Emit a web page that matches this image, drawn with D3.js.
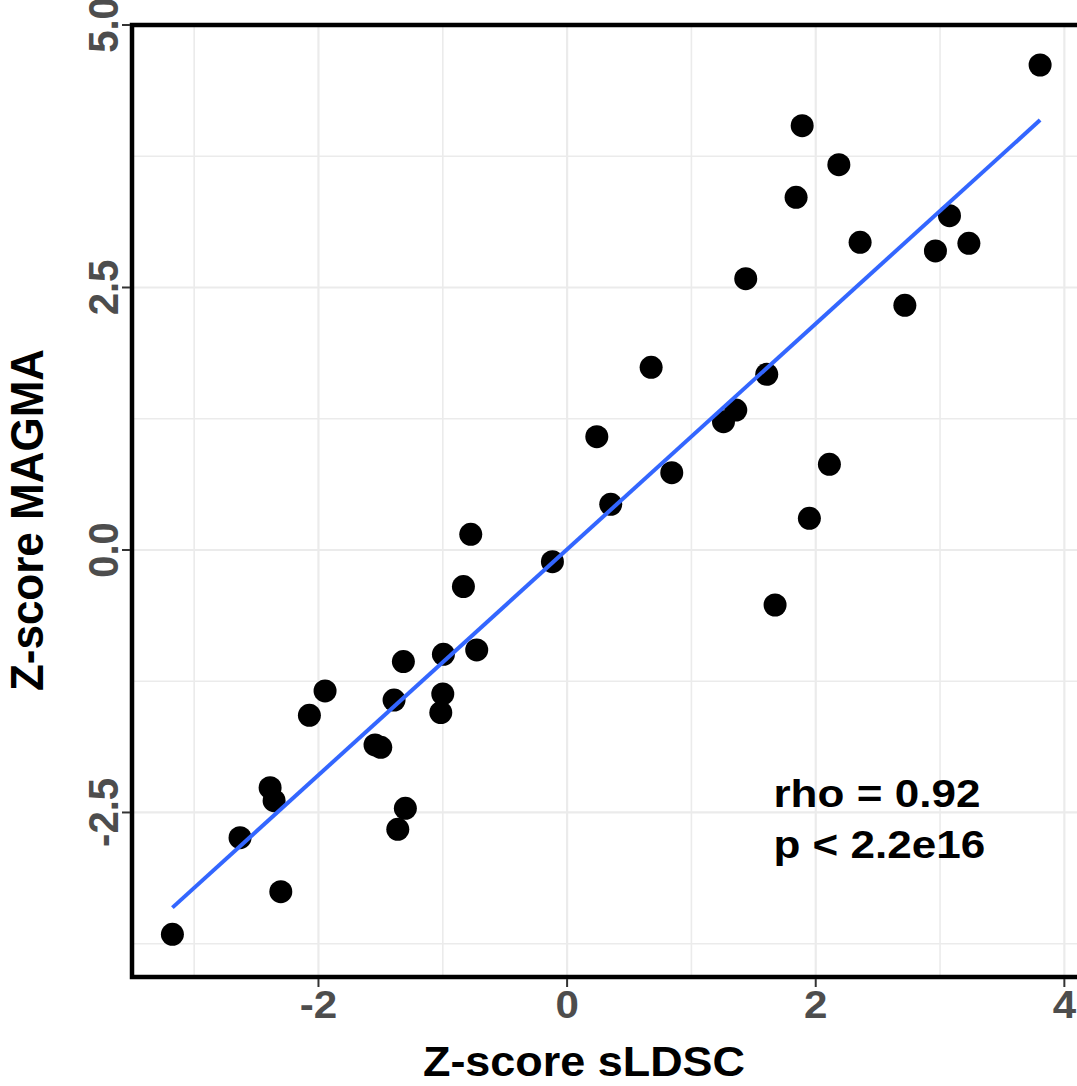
<!DOCTYPE html>
<html>
<head>
<meta charset="utf-8">
<script src="https://cdn.jsdelivr.net/npm/d3@7"></script>
<style>
  html, body { margin: 0; padding: 0; background: #fff; }
  svg { display: block; }
  text { font-family: "Liberation Sans", Arial, Helvetica, sans-serif; font-weight: bold; }
</style>
</head>
<body>
<svg id="chart" width="1077" height="1086"></svg>
<script>
// Per-annotation z-scores: sLDSC (x) against MAGMA (y)
const zSLDSC = [
  -3.175, -2.631, -2.303, -2.389, -2.357, -2.073, -1.947, -1.545, -1.499, -1.392,
  -1.317, -1.301, -1.362, -0.995, -1.000, -1.016, -0.727, -0.775, -0.834, -0.118,
   0.351,  0.676,  0.239,  0.842,  1.606,  1.357,  1.258,  2.110,  1.949,  1.673,
   1.891,  2.186,  1.842,  2.357,  1.437,  2.717,  3.076,  2.963,  3.232,  3.805
];
const zMAGMA = [
  -3.660, -2.740, -3.254, -2.264, -2.388, -1.575, -1.343, -1.857, -1.879, -1.429,
  -1.063, -2.460, -2.660, -0.994, -1.371, -1.549, -0.952,  0.149, -0.349, -0.111,
   0.435,  1.740,  1.079,  0.736,  1.673,  1.333,  1.222,  0.816,  0.302, -0.524,
   4.041,  3.670,  3.359,  2.930,  2.584,  2.330,  3.184,  2.848,  2.921,  4.619
];

// Axis breaks and labels
const xMajor = [-2, 0, 2, 4];
const xMinor = [-3, -1, 1, 3];
const xLabels = ["-2", "0", "2", "4"];
const yMajor = [-2.5, 0, 2.5, 5];
const yMinor = [-3.75, -1.25, 1.25, 3.75];
const yLabels = ["-2.5", "0.0", "2.5", "5.0"];

// Annotation text
const statLines = ["rho = 0.92", "p < 2.2e16"];
const statPos = [1.66, -2.45];

const svg = d3.select("#chart");

// Panel geometry
const panel = { left: 132, right: 1083, top: 25, bottom: 977 };
const x = d3.scaleLinear().domain([-3.5, 4.15]).range([panel.left, panel.right]);
const y = d3.scaleLinear().domain([-4.067, 5.0]).range([panel.bottom, panel.top]);

const textStretch = 1.08;

svg.append("defs").append("clipPath").attr("id", "panel-clip")
  .append("rect")
  .attr("x", panel.left).attr("y", panel.top)
  .attr("width", panel.right - panel.left).attr("height", panel.bottom - panel.top);

const grid = svg.append("g").attr("clip-path", "url(#panel-clip)");

// Minor grid
grid.selectAll("line.xminor").data(xMinor).join("line")
  .attr("x1", d => x(d)).attr("x2", d => x(d))
  .attr("y1", panel.top).attr("y2", panel.bottom)
  .attr("stroke", "#EBEBEB").attr("stroke-width", 1.6);
grid.selectAll("line.yminor").data(yMinor).join("line")
  .attr("y1", d => y(d)).attr("y2", d => y(d))
  .attr("x1", panel.left).attr("x2", panel.right)
  .attr("stroke", "#EBEBEB").attr("stroke-width", 1.6);

// Major grid
grid.selectAll("line.xmajor").data(xMajor).join("line")
  .attr("x1", d => x(d)).attr("x2", d => x(d))
  .attr("y1", panel.top).attr("y2", panel.bottom)
  .attr("stroke", "#EBEBEB").attr("stroke-width", 2.2);
grid.selectAll("line.ymajor").data(yMajor).join("line")
  .attr("y1", d => y(d)).attr("y2", d => y(d))
  .attr("x1", panel.left).attr("x2", panel.right)
  .attr("stroke", "#EBEBEB").attr("stroke-width", 2.2);

// Linear fit over the observed x range
const pts = zSLDSC.map((v, i) => ({ x: v, y: zMAGMA[i] }));
const mx = d3.mean(pts, d => d.x), my = d3.mean(pts, d => d.y);
const sxy = d3.sum(pts, d => (d.x - mx) * (d.y - my));
const sxx = d3.sum(pts, d => (d.x - mx) * (d.x - mx));
const slope = sxy / sxx, intercept = my - slope * mx;
const [xmin, xmax] = d3.extent(zSLDSC);
const fit = [xmin, xmax].map(v => ({ x: v, y: intercept + slope * v }));

// Points
svg.append("g").selectAll("circle").data(pts).join("circle")
  .attr("cx", d => x(d.x)).attr("cy", d => y(d.y))
  .attr("r", 11.5).attr("fill", "#000");

svg.append("path").datum(fit)
  .attr("d", d3.line().x(d => x(d.x)).y(d => y(d.y)))
  .attr("fill", "none").attr("stroke", "#3366FF").attr("stroke-width", 4);

// Panel border
svg.append("rect")
  .attr("x", panel.left).attr("y", panel.top)
  .attr("width", panel.right - panel.left).attr("height", panel.bottom - panel.top)
  .attr("fill", "none").attr("stroke", "#000").attr("stroke-width", 4.5);

// X axis ticks and labels
const xAxis = svg.append("g");
xAxis.selectAll("line").data(xMajor).join("line")
  .attr("x1", d => x(d)).attr("x2", d => x(d))
  .attr("y1", panel.bottom + 2).attr("y2", panel.bottom + 10)
  .attr("stroke", "#333").attr("stroke-width", 2);
xAxis.selectAll("text").data(xMajor).join("text")
  .attr("transform", d => `translate(${x(d)},1018) scale(${textStretch},1)`)
  .attr("text-anchor", "middle")
  .attr("font-size", 39).attr("fill", "#4D4D4D")
  .text((d, i) => xLabels[i]);

// Y axis ticks and labels
const yAxis = svg.append("g");
yAxis.selectAll("line").data(yMajor).join("line")
  .attr("y1", d => y(d)).attr("y2", d => y(d))
  .attr("x1", panel.left - 10).attr("x2", panel.left - 2)
  .attr("stroke", "#333").attr("stroke-width", 2);
yAxis.selectAll("text").data(yMajor).join("text")
  .attr("transform", d => `translate(118,${y(d)}) scale(${textStretch},1) rotate(-90)`)
  .attr("text-anchor", "middle")
  .attr("font-size", 40).attr("fill", "#4D4D4D")
  .text((d, i) => yLabels[i]);

// Axis titles
svg.append("text")
  .attr("transform", `translate(584,1076) scale(1.07,1)`)
  .attr("text-anchor", "middle").attr("font-size", 42).attr("fill", "#000")
  .text("Z-score sLDSC");
svg.append("text")
  .attr("transform", `translate(43,520) scale(1.05,1) rotate(-90)`)
  .attr("text-anchor", "middle").attr("font-size", 44).attr("fill", "#000")
  .text("Z-score MAGMA");

// Correlation annotation
svg.append("g").selectAll("text").data(statLines).join("text")
  .attr("transform", (d, i) => `translate(${x(statPos[0])},${y(statPos[1]) + i * 51}) scale(1.13,1)`)
  .attr("text-anchor", "start").attr("font-size", 39).attr("fill", "#000")
  .text(d => d);
</script>
</body>
</html>
